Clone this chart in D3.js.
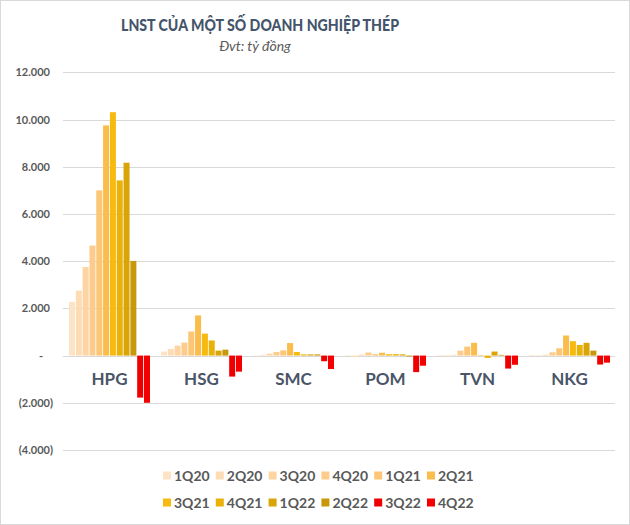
<!DOCTYPE html>
<html>
<head>
  <meta charset="utf-8">
  <script src="https://d3js.org/d3.v7.min.js"></script>
  <style>
    body { margin: 0; background: #fff; }
    text { font-family: Lato, "Open Sans", sans-serif; }
  </style>
</head>
<body>
  <div id="chart"></div>
  <script>
    // data (ty dong)
    var companies = ["HPG", "HSG", "SMC", "POM", "TVN", "NKG"];
    var quarters = ["1Q20", "2Q20", "3Q20", "4Q20", "1Q21", "2Q21", "3Q21", "4Q21", "1Q22", "2Q22", "3Q22", "4Q22"];
    var hpg = [2270, 2750, 3750, 4660, 7000, 9750, 10310, 7420, 8170, 4010, -1780, -2000];
    var hsg = [170, 280, 420, 550, 1020, 1700, 930, 640, 210, 250, -890, -680];
    var smc = [10, 30, 80, 150, 220, 530, 150, 50, 50, 50, -240, -570];
    var pom = [-20, -60, 40, 130, 60, 120, 60, 60, 50, -40, -700, -430];
    var tvn = [20, 20, 30, 210, 380, 540, 20, -100, 170, 30, -550, -390];
    var nkg = [30, 20, 40, 140, 310, 850, 610, 450, 540, 210, -380, -300];
    var values = [hpg, hsg, smc, pom, tvn, nkg];
    var colors = ["#fde3c6", "#fddcb4", "#fdd4a2", "#fdcc8c", "#fdc677", "#fabd4c",
                  "#f6ba10", "#eab107", "#d9a406", "#c9980a", "#ee0000", "#f40000"];
    var yTicks = [-4000, -2000, 0, 2000, 4000, 6000, 8000, 10000, 12000];

    var W = 630, H = 525;
    var svg = d3.select("#chart").append("svg")
      .attr("width", W).attr("height", H);

    svg.append("rect")
      .attr("x", 0.5).attr("y", 0.5)
      .attr("width", W - 1).attr("height", H - 1)
      .attr("fill", "#fff").attr("stroke", "#d9d9d9");

    // titles
    svg.append("text")
      .attr("x", 260).attr("y", 31)
      .attr("text-anchor", "middle")
      .attr("textLength", 278).attr("lengthAdjust", "spacingAndGlyphs")
      .style("font-size", "17px").style("font-weight", "900")
      .attr("fill", "#44546a")
      .text("LNST CỦA MỘT SỐ DOANH NGHIỆP THÉP");
    svg.append("text")
      .attr("x", 255).attr("y", 51)
      .attr("text-anchor", "middle")
      .style("font-size", "14px").style("font-style", "italic")
      .attr("fill", "#595959")
      .text("Đvt: tỷ đồng");

    var x = d3.scaleBand().domain(companies).range([63, 615]);
    var xq = d3.scaleBand().domain(quarters).range([6, 87]).paddingInner(0.12);
    var y = d3.scaleLinear().domain([-4000, 12000]).range([450, 72.3]);

    // grid
    svg.append("g")
      .selectAll("line")
      .data(yTicks)
      .join("line")
      .attr("x1", 63).attr("x2", 615)
      .attr("y1", d => Math.round(y(d)) + 0.5)
      .attr("y2", d => Math.round(y(d)) + 0.5)
      .attr("stroke", "#d9d9d9");

    // y labels
    var fmt = function (d) {
      if (d === 0) return "-";
      var s = d3.format(",")(Math.abs(d)).replace(/,/g, ".");
      return d < 0 ? "(" + s + ")" : s;
    };
    svg.append("g")
      .selectAll("text")
      .data(yTicks)
      .join("text")
      .attr("x", d => d < 0 ? 53 : (d === 0 ? 43 : 50))
      .attr("y", d => y(d) + 4)
      .attr("text-anchor", "end")
      .style("font-size", "11px").style("font-weight", "bold")
      .attr("fill", "#595959")
      .text(fmt);

    // bars
    var groups = svg.append("g")
      .selectAll("g")
      .data(companies)
      .join("g")
      .attr("transform", d => "translate(" + x(d) + ",0)");

    groups.selectAll("rect")
      .data((d, i) => values[i].map((v, j) => ({ q: quarters[j], v: v, c: colors[j] })))
      .join("rect")
      .attr("x", d => xq(d.q))
      .attr("width", xq.bandwidth())
      .attr("y", d => y(Math.max(0, d.v)))
      .attr("height", d => Math.abs(y(d.v) - y(0)))
      .attr("fill", d => d.c);

    // category labels
    svg.append("g")
      .selectAll("text")
      .data(companies)
      .join("text")
      .attr("x", d => x(d) + x.bandwidth() / 2 + 0.5)
      .attr("y", 385)
      .attr("text-anchor", "middle")
      .style("font-size", "17px").style("font-weight", "bold")
      .attr("fill", "#4a5568")
      .text(d => d);

    // legend, two rows of six
    var legend = svg.append("g")
      .selectAll("g")
      .data(quarters)
      .join("g")
      .attr("transform", (d, i) => "translate(" + (163 + (i % 6) * 52.8) + "," + (i < 6 ? 476 : 503) + ")");
    legend.append("rect")
      .attr("x", 0).attr("y", -4.5)
      .attr("width", 8).attr("height", 8)
      .attr("fill", (d, i) => colors[i]);
    legend.append("text")
      .attr("x", 11).attr("y", 5)
      .style("font-size", "14px").style("font-weight", "bold")
      .attr("fill", "#595959")
      .text(d => d);
  </script>
</body>
</html>
